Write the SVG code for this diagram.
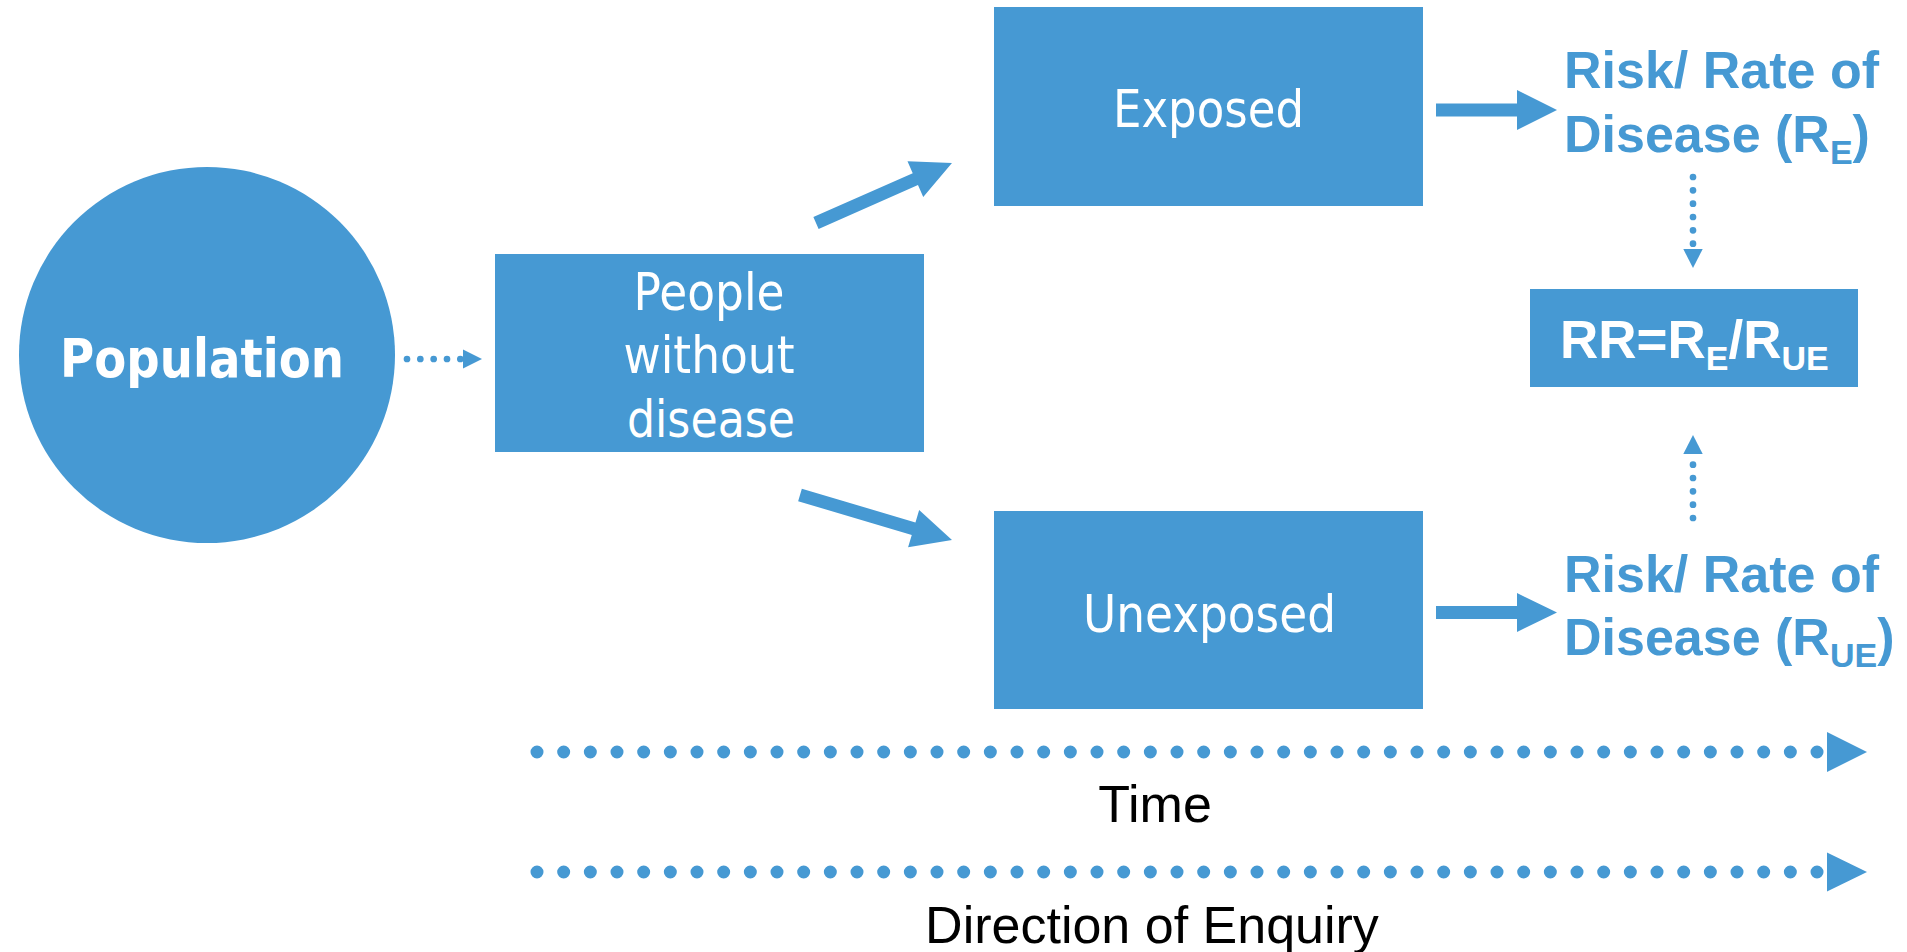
<svg xmlns="http://www.w3.org/2000/svg" width="1907" height="952" viewBox="0 0 1907 952">
<style>
.shape{fill:#4699d3}
.lbl{font-family:"DejaVu Sans","Liberation Sans",sans-serif;fill:#ffffff;font-size:52px;text-anchor:middle}
.pop{font-family:"DejaVu Sans","Liberation Sans",sans-serif;fill:#ffffff;font-size:54px;font-weight:bold;text-anchor:middle}
.risk{font-family:"Liberation Sans",Arial,sans-serif;fill:#4699d3;font-size:52px;font-weight:bold}
.rr{font-family:"Liberation Sans",Arial,sans-serif;fill:#ffffff;font-size:53px;font-weight:bold}
.cap{font-family:"Liberation Sans",Arial,sans-serif;fill:#000000;font-size:52px;text-anchor:middle}
.dot-s{stroke:#4699d3;stroke-width:6.7;stroke-linecap:round;stroke-dasharray:0 13.333;fill:none}
.dot-l{stroke:#4699d3;stroke-width:13;stroke-linecap:round;stroke-dasharray:0 26.667;fill:none}
.head{fill:#4699d3}
</style>
<rect width="1907" height="952" fill="#ffffff"/>

<g id="population">
<circle class="shape" cx="207" cy="355" r="188"/>
<text class="pop" x="202" y="377" textLength="284" lengthAdjust="spacingAndGlyphs">Population</text>
</g>

<g id="people-without-disease">
<rect class="shape" x="495" y="254" width="429" height="198"/>
<text class="lbl" x="709" y="310" textLength="151" lengthAdjust="spacingAndGlyphs">People</text>
<text class="lbl" x="709" y="373" textLength="171" lengthAdjust="spacingAndGlyphs">without</text>
<text class="lbl" x="711" y="437" textLength="168" lengthAdjust="spacingAndGlyphs">disease</text>
</g>

<g id="exposed">
<rect class="shape" x="994" y="7" width="429" height="199"/>
<text class="lbl" x="1208.5" y="127" textLength="191" lengthAdjust="spacingAndGlyphs">Exposed</text>
</g>

<g id="unexposed">
<rect class="shape" x="994" y="511" width="429" height="198"/>
<text class="lbl" x="1209.5" y="632" textLength="253" lengthAdjust="spacingAndGlyphs">Unexposed</text>
</g>

<g id="risk-exposed">
<text class="risk" x="1564" y="88">Risk/ Rate of</text>
<text class="risk" x="1564" y="152">Disease (R<tspan font-size="34" dy="12">E</tspan><tspan dy="-12">)</tspan></text>
</g>

<g id="risk-unexposed">
<text class="risk" x="1564" y="592">Risk/ Rate of</text>
<text class="risk" x="1564" y="655">Disease (R<tspan font-size="34" dy="12">UE</tspan><tspan dy="-12">)</tspan></text>
</g>

<g id="relative-risk">
<rect class="shape" x="1530" y="289" width="328" height="98"/>
<text class="rr" x="1560" y="358">RR=R<tspan font-size="34" dy="12">E</tspan><tspan dy="-12">/R</tspan><tspan font-size="34" dy="12">UE</tspan></text>
</g>

<g id="time-label">
<text class="cap" x="1155" y="822">Time</text>
</g>
<g id="enquiry-label">
<text class="cap" x="1152" y="943">Direction of Enquiry</text>
</g>

<g id="connectors">
<line class="dot-s" x1="407" y1="359" x2="460.4" y2="359"/>
<polygon class="head" points="463,349.5 482,359 463,368.5"/>
<path class="shape" transform="translate(816,223) rotate(-23.8)" d="M0,-6.5 H108.6 V-19.5 L148.6,0 L108.6,19.5 V6.5 H0 Z"/>
<path class="shape" transform="translate(800,495) rotate(16.5)" d="M0,-6.5 H118.5 V-19.5 L158.5,0 L118.5,19.5 V6.5 H0 Z"/>
<path class="shape" d="M1436,103.5 H1517 V90 L1557,110 L1517,130 V116.5 H1436 Z"/>
<path class="shape" d="M1436,606 H1517 V593 L1557,612.5 L1517,632 V619 H1436 Z"/>
<line class="dot-s" x1="1693" y1="177" x2="1693" y2="243.8"/>
<polygon class="head" points="1683.3,249 1702.7,249 1693,268"/>
<line class="dot-s" x1="1693" y1="518" x2="1693" y2="464.6"/>
<polygon class="head" points="1683.3,454 1702.7,454 1693,435"/>
<line class="dot-l" x1="537" y1="752" x2="1817.05" y2="752"/>
<polygon class="head" points="1827,732 1867,752 1827,772"/>
<line class="dot-l" x1="537" y1="872" x2="1817.05" y2="872"/>
<polygon class="head" points="1827,852.5 1867,872 1827,891.5"/>
</g>
</svg>
